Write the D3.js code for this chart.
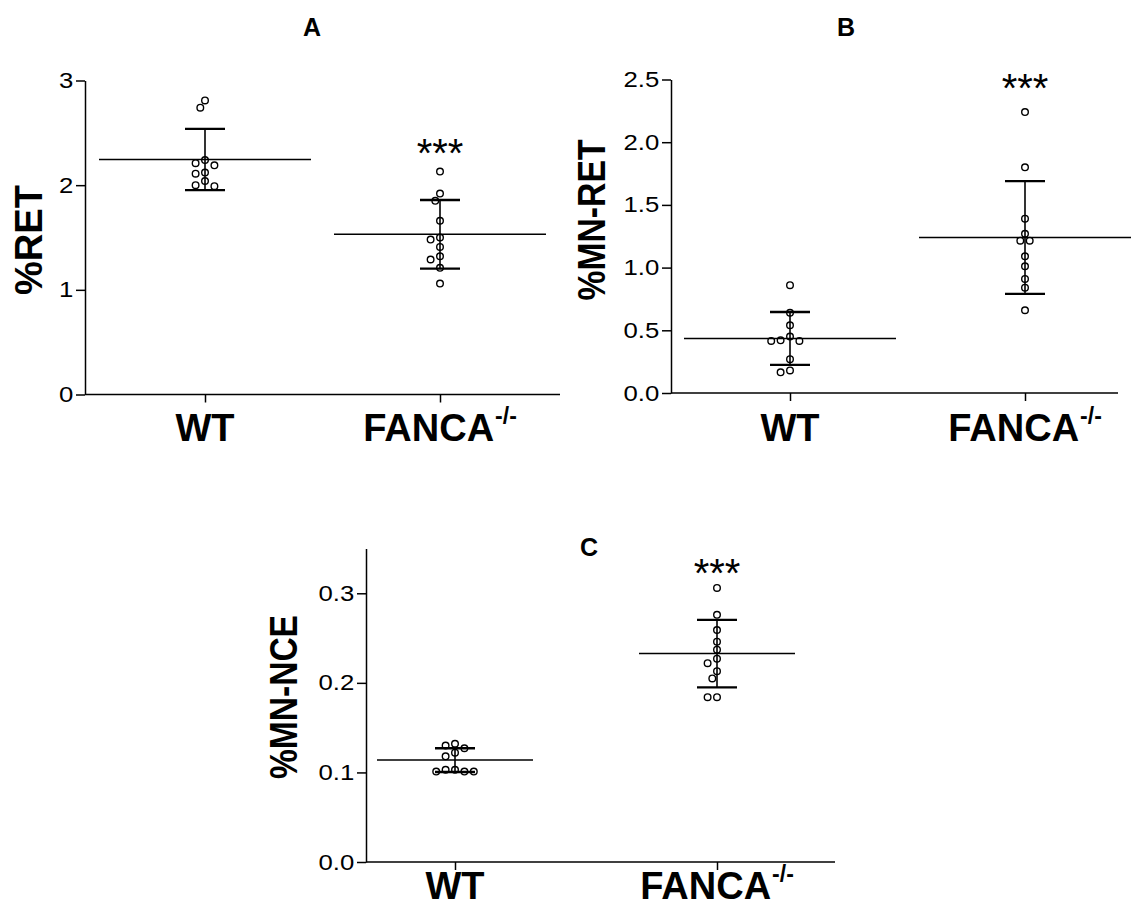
<!DOCTYPE html>
<html>
<head>
<meta charset="utf-8">
<script src="https://cdn.jsdelivr.net/npm/d3@7"></script>
<style>
  body { margin: 0; background: #fff; }
  svg text { font-family: "Liberation Sans", Arial, sans-serif; }
</style>
</head>
<body>
<div class="chart"></div>
<script>
var groups = ['WT', 'FANCA'];

// % RET
var retWT = [2.81, 2.74, 2.24, 2.21, 2.19, 2.12, 2.11, 2.04, 2.0, 1.99];
var retFANCA = [2.13, 1.92, 1.85, 1.66, 1.50, 1.48, 1.41, 1.32, 1.29, 1.21, 1.06];
var retTicks = [0, 1, 2, 3];

// % MN-RET
var mnretWT = [0.86, 0.64, 0.54, 0.45, 0.42, 0.415, 0.415, 0.27, 0.18, 0.165];
var mnretFANCA = [2.24, 1.80, 1.39, 1.27, 1.215, 1.215, 1.09, 1.01, 0.91, 0.84, 0.66];
var mnretTicks = [0, 0.5, 1.0, 1.5, 2.0, 2.5];

// % MN-NCE
var mnnceWT = [0.132, 0.130, 0.127, 0.122, 0.118, 0.103, 0.103, 0.101, 0.101, 0.101];
var mnnceFANCA = [0.306, 0.276, 0.259, 0.246, 0.237, 0.227, 0.222, 0.213, 0.205, 0.184, 0.184];
var mnnceTicks = [0, 0.1, 0.2, 0.3];

var titles = ['A', 'B', 'C'];
var yLabels = ['%RET', '%MN-RET', '%MN-NCE'];
var sig = '***';

var panels = [
  { title: titles[0], label: yLabels[0], data: [retWT, retFANCA], ticks: retTicks, domain: [0, 3],
    fmt: d3.format('d'), left: 85, right: 560, y0: 394.5, y1: 80.5, xs: [205, 440], half: 106,
    tx: 312, ty: 36, lx: 42, ly: 240, llen: 110, cy: 441, starUp: 5 },
  { title: titles[1], label: yLabels[1], data: [mnretWT, mnretFANCA], ticks: mnretTicks, domain: [0, 2.5],
    fmt: d3.format('.1f'), left: 671, right: 1118, y0: 393, y1: 79.5, xs: [790, 1025], half: 106,
    tx: 846, ty: 36, lx: 605, ly: 220, llen: 161, cy: 441, starUp: 10 },
  { title: titles[2], label: yLabels[2], data: [mnnceWT, mnnceFANCA], ticks: mnnceTicks, domain: [0, 0.35],
    fmt: d3.format('.1f'), left: 366, right: 835, y0: 862, y1: 548.5, xs: [455, 717], half: 78,
    tx: 589, ty: 556, lx: 297, ly: 697, llen: 164, cy: 899, starUp: 1 }
];

var w = 1138, h = 910, r = 3.3;

var svg = d3.select('.chart')
  .append('svg')
  .attr('width', w)
  .attr('height', h);

// simple beeswarm so overlapping points spread sideways
function swarm(vals, y, cx) {
  var step = 4.7, minD = 7.6, placed = [];
  vals.slice().sort(function (a, b) { return b - a; }).forEach(function (v) {
    var py = y(v);
    for (var k = 0; k < 20; k++) {
      var off = k === 0 ? 0 : (k % 2 ? -1 : 1) * Math.ceil(k / 2) * step;
      var ok = placed.every(function (p) {
        return Math.hypot(p.x - (cx + off), p.y - py) >= minD;
      });
      if (ok) { placed.push({ x: cx + off, y: py }); break; }
    }
  });
  return placed;
}

panels.forEach(function (p) {
  var g = svg.append('g');

  var y = d3.scaleLinear()
    .domain(p.domain)
    .range([p.y0, p.y1]);

  var x = d3.scalePoint()
    .domain(groups)
    .range(p.xs);

  // y axis
  var ya = g.append('g')
    .attr('transform', 'translate(' + p.left + ',0)')
    .call(d3.axisLeft(y).tickValues(p.ticks).tickFormat(p.fmt).tickSize(9).tickSizeOuter(0).tickPadding(1));
  ya.select('.domain').attr('stroke-width', 1.5);
  ya.selectAll('.tick line').attr('stroke-width', 1.5);
  ya.selectAll('.tick text')
    .attr('font-size', '22px')
    .attr('fill', '#000')
    .attr('transform', 'scale(1.17,1)');

  // x axis
  g.append('line')
    .attr('x1', p.left).attr('x2', p.right)
    .attr('y1', p.y0).attr('y2', p.y0)
    .attr('stroke', '#000').attr('stroke-width', 1.5);

  var xa = g.append('g')
    .attr('transform', 'translate(0,' + p.y0 + ')')
    .call(d3.axisBottom(x).tickSize(8).tickFormat(''));
  xa.select('.domain').remove();
  xa.selectAll('.tick line').attr('stroke-width', 1.5);

  // category labels
  groups.forEach(function (c) {
    var t = g.append('text')
      .attr('x', x(c))
      .attr('y', p.cy)
      .attr('text-anchor', 'middle')
      .attr('font-size', '38px')
      .attr('font-weight', 'bold')
      .text(c);
    if (c === 'FANCA') {
      t.append('tspan')
        .attr('font-size', '23px')
        .attr('dy', -17)
        .attr('dx', 1)
        .text('-/-');
    }
  });

  // panel title
  g.append('text')
    .attr('x', p.tx).attr('y', p.ty)
    .attr('text-anchor', 'middle')
    .attr('font-size', '25px')
    .attr('font-weight', 'bold')
    .text(p.title);

  // y label
  g.append('text')
    .attr('transform', 'translate(' + p.lx + ',' + p.ly + ') rotate(-90)')
    .attr('text-anchor', 'middle')
    .attr('font-size', '38px')
    .attr('font-weight', 'bold')
    .attr('textLength', p.llen)
    .attr('lengthAdjust', 'spacingAndGlyphs')
    .text(p.label);

  p.data.forEach(function (vals, i) {
    var cx = x(groups[i]);
    var m = d3.mean(vals), sd = d3.deviation(vals);

    var pts = swarm(vals, y, cx);
    g.selectAll('circle.g' + i)
      .data(pts)
      .enter()
      .append('circle')
      .attr('class', 'g' + i)
      .attr('cx', function (d) { return d.x; })
      .attr('cy', function (d) { return d.y; })
      .attr('r', r)
      .attr('fill', '#fff')
      .attr('stroke', '#000')
      .attr('stroke-width', 1.4);

    // mean and SD bars
    g.append('line')
      .attr('x1', cx - p.half).attr('x2', cx + p.half)
      .attr('y1', y(m)).attr('y2', y(m))
      .attr('stroke', '#000').attr('stroke-width', 1.5);
    g.append('line')
      .attr('x1', cx).attr('x2', cx)
      .attr('y1', y(m - sd)).attr('y2', y(m + sd))
      .attr('stroke', '#000').attr('stroke-width', 1.6);
    [m - sd, m + sd].forEach(function (v) {
      g.append('line')
        .attr('x1', cx - 20).attr('x2', cx + 20)
        .attr('y1', y(v)).attr('y2', y(v))
        .attr('stroke', '#000').attr('stroke-width', 2.4);
    });

    if (i === 1) {
      g.append('text')
        .attr('x', cx)
        .attr('y', y(d3.max(vals)) - p.starUp)
        .attr('text-anchor', 'middle')
        .attr('font-size', '40px')
        .text(sig);
    }
  });
});
</script>
</body>
</html>
